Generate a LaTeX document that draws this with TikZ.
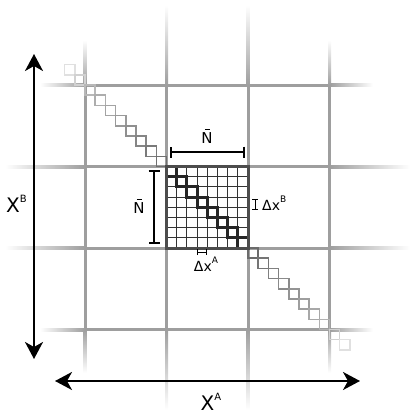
\documentclass[tikz,border=0pt]{standalone}
\usepackage{fontspec}
\setmainfont{DejaVu Sans}
\usetikzlibrary{arrows.meta}
\tikzset{
	bigarrow/.style={line width=2pt,{Stealth[length=17pt,width=18pt,inset=5pt]}-{Stealth[length=17pt,width=18pt,inset=5pt]}},
	nbar/.style={line width=2pt,{Bar[width=11pt]}-{Bar[width=11pt]}},
	dbar/.style={line width=1pt,{Bar[width=6pt]}-{Bar[width=6pt]}},
	fine/.style={line width=1pt,black!80},
	stair/.style={line width=1.5pt},
	lbl/.style={font=\fontsize{14}{14}\selectfont,inner sep=0pt},
	nlbl/.style={font=\fontsize{15}{15}\selectfont,inner sep=0pt},
	biglbl/.style={font=\fontsize{20}{20}\selectfont,inner sep=0pt},
}
\newcommand\Nbar{\makebox[0pt][l]{\hspace{3.4pt}\rule[12.8pt]{4.8pt}{0.9pt}}N}
\begin{document}
\begin{tikzpicture}[x=1pt,y=-1pt]
	\useasboundingbox (0,0) rectangle (415,415);
	\colorlet{linegray}{black!38}
	\def\c{10.1875}
	% grid lines, fading at the ends
	\foreach \p/\a/\b in {85/40/373,166.5/5/410,248/5/410,329.5/40/373}{
		\shade[left color=white,right color=linegray] (\a,\p-1.5) rectangle (85,\p+1.5);
		\fill[linegray] (85,\p-1.5) rectangle (329.5,\p+1.5);
		\shade[left color=linegray,right color=white] (329.5,\p-1.5) rectangle (\b,\p+1.5);
		\shade[top color=white,bottom color=linegray] (\p-1.5,\a) rectangle (\p+1.5,85);
		\fill[linegray] (\p-1.5,85) rectangle (\p+1.5,329.5);
		\shade[top color=linegray,bottom color=white] (\p-1.5,329.5) rectangle (\p+1.5,\b);
	}
	% staircases
	\foreach \i/\g in {-2/12,-1/18,0/28,1/32,2/36,3/40,4/44,5/48,6/52,7/56}
		\draw[stair,black!\g] (85+\i*\c,85+\i*\c) rectangle ++(\c,\c);
	\foreach \i/\g in {0/58,1/54,2/50,3/46,4/42,5/38,6/34,7/30,8/18,9/12}
		\draw[stair,black!\g] (248+\i*\c,248+\i*\c) rectangle ++(\c,\c);
	% central block
	\foreach \i in {1,...,7}{
		\draw[fine] (166.5+\i*\c,166.5) -- ++(0,81.5);
		\draw[fine] (166.5,166.5+\i*\c) -- ++(81.5,0);
	}
	\foreach \i in {0,...,7}
		\draw[line width=3pt,black!85] (166.5+\i*\c,166.5+\i*\c) rectangle ++(\c,\c);
	\draw[line width=3pt,black!70] (166.5,166.5) rectangle (248,248);
	% axes
	\coordinate (XBtop) at (34,54);
	\coordinate (XBbot) at (34,359);
	\coordinate (XAleft) at (55,381);
	\coordinate (XAright) at (360,381);
	\draw[bigarrow] (XBtop)--(XBbot);
	\draw[bigarrow] (XAleft)--(XAright);
	\node[biglbl,anchor=base west] (XB) at (6,212) {X\raisebox{10pt}{\fontsize{10}{10}\selectfont B}};
	\node[biglbl,anchor=base] (XA) at (211,410) {X\raisebox{10pt}{\fontsize{10}{10}\selectfont A}};
	% block sizes
	\coordinate (Nl) at (170,152);
	\coordinate (Nr) at (245,152);
	\coordinate (Nt) at (154,170);
	\coordinate (Nb) at (154,244);
	\draw[nbar] (Nl)--(Nr);
	\draw[nbar] (Nt)--(Nb);
	\node[nlbl,anchor=base] (Ntop) at (207,143) {\Nbar};
	\node[nlbl,anchor=base] (Nleft) at (139,213) {\Nbar};
	% cell sizes
	\coordinate (dBt) at (255,199);
	\coordinate (dBb) at (255,210);
	\coordinate (dAl) at (197,252);
	\coordinate (dAr) at (207,252);
	\draw[dbar] (dBt)--(dBb);
	\draw[dbar] (dAl)--(dAr);
	\node[lbl,anchor=base west] (dxB) at (262,210) {Δx\raisebox{8pt}{\fontsize{9}{9}\selectfont B}};
	\node[lbl,anchor=base] (dxA) at (206,271) {Δx\raisebox{8pt}{\fontsize{9}{9}\selectfont A}};
\end{tikzpicture}
\end{document}
